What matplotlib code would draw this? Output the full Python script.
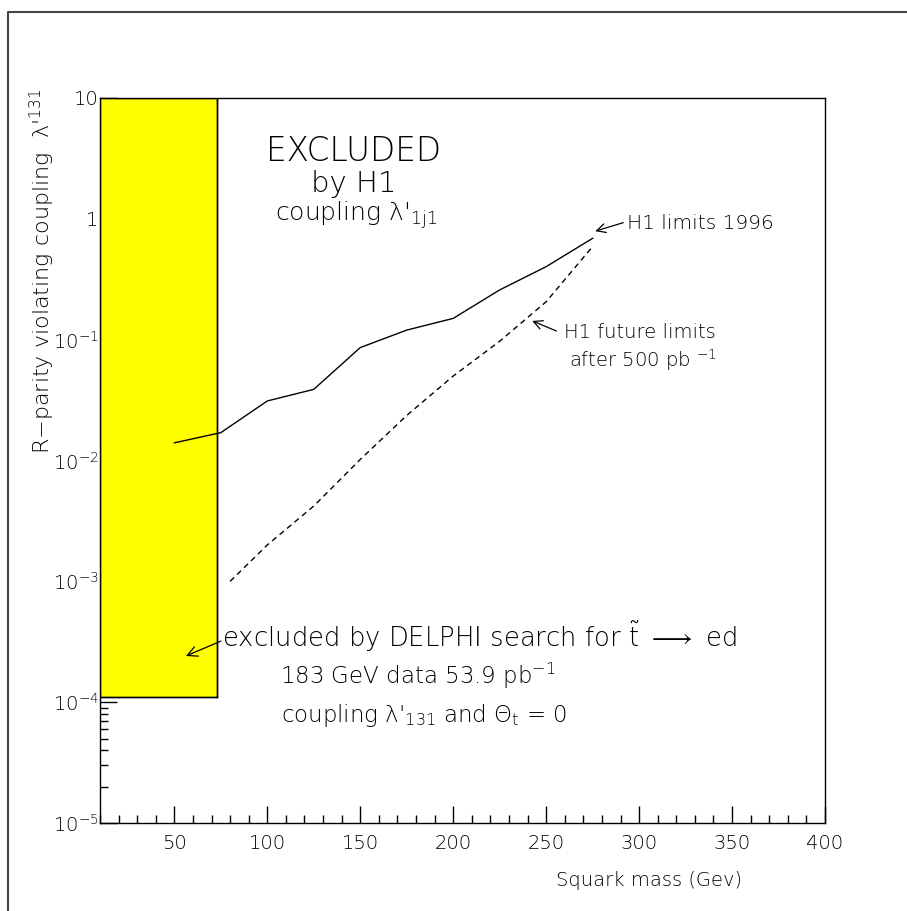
import matplotlib
matplotlib.use("Agg")
import matplotlib.pyplot as plt
from matplotlib.lines import Line2D
from matplotlib.ticker import FixedLocator, FuncFormatter, MultipleLocator

plt.rcParams['font.family'] = ['DejaVu Sans']
plt.rcParams['font.weight'] = 'light'
plt.rcParams['mathtext.fontset'] = 'custom'
plt.rcParams['mathtext.rm'] = 'DejaVu Sans:light'
plt.rcParams['mathtext.it'] = 'DejaVu Sans:italic:light'
plt.rcParams['mathtext.bf'] = 'DejaVu Sans:bold'

# H1 limits 1996 (solid) and expected limits after 500 pb^-1 (dashed)
mass_h1 = [50, 75, 100, 125, 150, 175, 200, 225, 250, 275]
lambda_h1 = [0.0140, 0.0170, 0.0311, 0.0388, 0.086, 0.120, 0.150, 0.258, 0.402, 0.690]

mass_future = [80, 100, 125, 150, 175, 200, 225, 250, 275]
lambda_future = [0.0010, 0.0020, 0.0042, 0.0102, 0.0236, 0.050, 0.097, 0.206, 0.59]

# DELPHI excluded region (mass range, coupling range)
delphi_mass = [10, 73]
delphi_lambda = [1.1e-4, 10]

y_ticks = [1e-5, 1e-4, 1e-3, 1e-2, 1e-1, 1, 10]
y_tick_labels = ['$10^{-5}$', '$10^{-4}$', '$10^{-3}$', '$10^{-2}$', '$10^{-1}$', '1', '10']

fig = plt.figure(figsize=(9.07, 9.11), dpi=100)
ax = fig.add_axes([100 / 907, 88 / 911, 725 / 907, 725 / 911])

ax.fill_between(delphi_mass, delphi_lambda[0], delphi_lambda[1],
                facecolor='#ffff00', edgecolor='black', lw=1.0, zorder=3)
ax.plot(delphi_mass[1:] * 2, delphi_lambda, color='black', lw=1.0, zorder=4)
ax.plot(delphi_mass, [delphi_lambda[0]] * 2, color='black', lw=1.0, zorder=4)

ax.plot(mass_h1, lambda_h1, color='black', lw=1.0, zorder=5)
ax.plot(mass_future, lambda_future, color='black', lw=1.0, ls=(0, (4, 3)), zorder=5)

ax.set_yscale('log')
ax.set_xlim(10, 400)
ax.set_ylim(1e-5, 10)

ax.xaxis.set_major_locator(MultipleLocator(50))
ax.xaxis.set_minor_locator(MultipleLocator(10))
ax.yaxis.set_major_locator(FixedLocator(y_ticks))
ax.yaxis.set_major_formatter(FuncFormatter(lambda v, p: y_tick_labels[y_ticks.index(min(y_ticks, key=lambda t: abs(t - v)))]))
ax.tick_params(which='both', direction='in', top=False, right=False, labelsize=14)
ax.tick_params(which='major', length=12, width=1.0, pad=8)
ax.tick_params(which='minor', length=6, width=1.0)
ax.tick_params(axis='y', which='major', pad=1)
for s in ax.spines.values():
    s.set_linewidth(1.0)
    s.set_zorder(6)

# annotations
ax.text(146.5, 3.6, 'EXCLUDED', ha='center', va='center', fontsize=23.5)
ax.text(146.5, 1.95, 'by H1', ha='center', va='center', fontsize=21)
ax.text(148, 1.08, "coupling \u03bb'$_{\\mathrm{1j1}}$", ha='center', va='center', fontsize=18)

ax.annotate('', xy=(276.4, 0.79), xytext=(291.5, 0.93),
            arrowprops=dict(arrowstyle='->', lw=0.9, color='black', shrinkA=0, shrinkB=0, mutation_scale=16))
ax.text(293.6, 0.91, 'H1 limits 1996', ha='left', va='center', fontsize=14.5)

ax.annotate('', xy=(242.5, 0.143), xytext=(255.5, 0.118),
            arrowprops=dict(arrowstyle='->', lw=0.9, color='black', shrinkA=0, shrinkB=0, mutation_scale=16))
ax.text(259.7, 0.114, 'H1 future limits', ha='left', va='center', fontsize=14)
ax.text(262.4, 0.068, 'after 500 pb $^{-1}$', ha='left', va='center', fontsize=14)

ax.annotate('', xy=(56.2, 2.41e-4), xytext=(75.0, 3.2e-4),
            arrowprops=dict(arrowstyle='->', lw=0.9, color='black', shrinkA=0, shrinkB=0, mutation_scale=18))
ax.text(75.5, 3.46e-4, 'excluded by DELPHI search for $\\tilde{\\mathrm{t}}$ $\\longrightarrow$ ed',
        ha='left', va='center', fontsize=18.6)
ax.text(181.0, 1.64e-4, '183 GeV data 53.9 pb$^{-1}$', ha='center', va='center', fontsize=16.5)
ax.text(184.5, 7.7e-5, "coupling \u03bb'$_{131}$ and \u0398$_{\\mathrm{t}}$ = 0",
        ha='center', va='center', fontsize=16.5)

fig.text(742 / 907, 1 - 881 / 911, 'Squark mass (Gev)', ha='right', va='center', fontsize=14)
fig.text(42 / 907, 1 - 88 / 911, "R\u2212parity violating coupling  \u03bb'$^{131}$",
         rotation=90, ha='center', va='top', fontsize=16)

# outer frame
fig.add_artist(Line2D([8 / 907, 8 / 907, 1], [0, 1 - 12 / 911, 1 - 12 / 911],
                      transform=fig.transFigure, color='#444444', lw=1.5))

fig.savefig('out.png', dpi=100)
